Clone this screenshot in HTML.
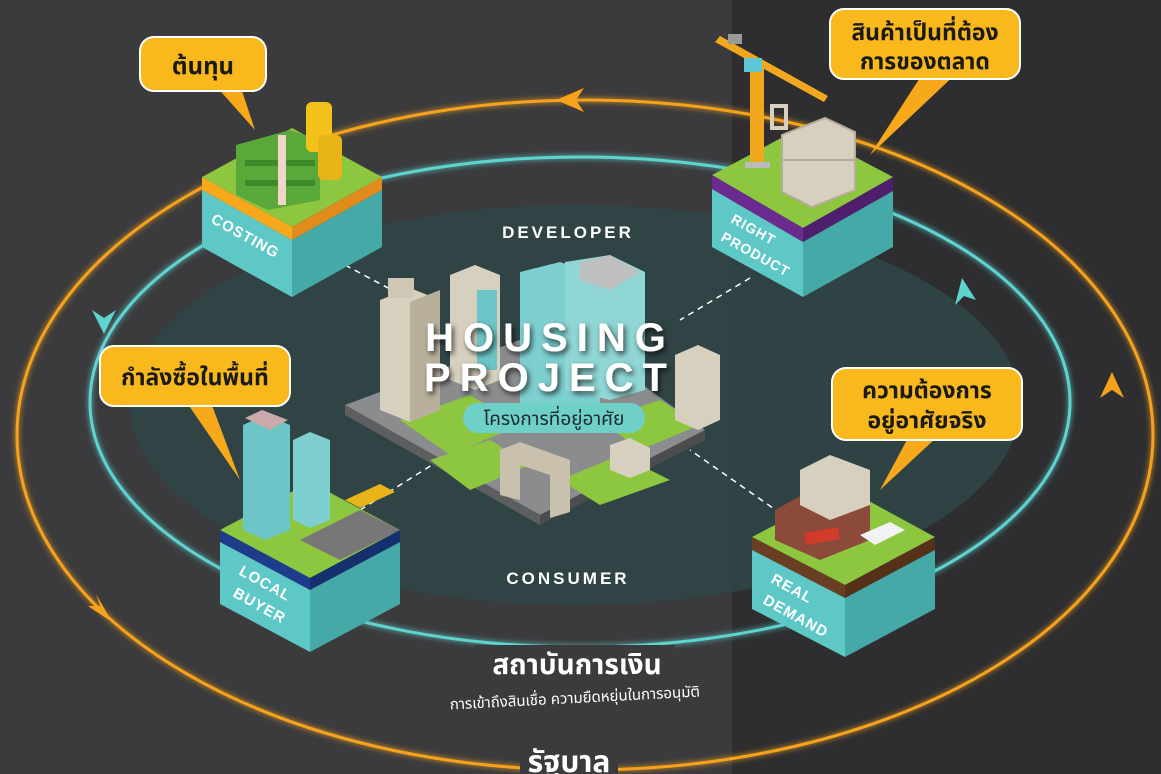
<!DOCTYPE html>
<html><head><meta charset="utf-8"><style>
html,body{margin:0;padding:0}
body{width:1161px;height:774px;overflow:hidden;background:#3b3b3d;position:relative;font-family:"Liberation Sans","DejaVu Sans",sans-serif}
svg{position:absolute;left:0;top:0}
.t{font-family:"Liberation Sans","Noto Sans Thai","Loma","Garuda","DejaVu Sans",sans-serif}
</style></head><body>
<svg width="1161" height="774" viewBox="0 0 1161 774">
<defs>
<filter id="gl" x="-20%" y="-20%" width="140%" height="140%"><feGaussianBlur stdDeviation="3" result="b"/><feMerge><feMergeNode in="b"/><feMergeNode in="SourceGraphic"/></feMerge></filter>
<filter id="sh"><feDropShadow dx="2" dy="3" stdDeviation="3" flood-color="#000" flood-opacity="0.7"/></filter>
</defs>
<rect x="0" y="0" width="1161" height="774" fill="#3b3b3d"/>
<rect x="732" y="0" width="429" height="774" fill="#2e2e30"/>
<ellipse cx="575" cy="405" rx="445" ry="200" fill="#2f4446" opacity="0.95"/>
<ellipse cx="585" cy="435" rx="568" ry="335" fill="none" stroke="#f7a21b" stroke-width="3" filter="url(#gl)"/>
<ellipse cx="580" cy="402" rx="490" ry="245" fill="none" stroke="#5fd3cf" stroke-width="3" filter="url(#gl)"/>
<!-- arrowheads (filled) -->
<polygon points="556,100 584,88 576,100 584,112" fill="#f7a21b"/>
<polygon points="1112,372 1124,398 1112,390 1100,398" fill="#f7a21b"/>
<polygon points="112,622 88,606 100,606 96,594" fill="#f7a21b"/>
<polygon points="104,334 92,310 104,318 116,310" fill="#5fd3cf"/>
<polygon points="962,278 976,300 964,296 955,305" fill="#5fd3cf"/>
<!-- cover behind bottom labels -->
<rect x="475" y="645" width="200" height="34" fill="#3b3b3d"/>
<rect x="520" y="745" width="98" height="29" fill="#3b3b3d"/>
<!-- dashed lines -->
<g stroke="#fff" stroke-width="1.5" stroke-dasharray="6 5" fill="none">
<line x1="345" y1="265" x2="420" y2="305"/>
<line x1="750" y1="278" x2="680" y2="320"/>
<line x1="360" y1="510" x2="440" y2="460"/>
<line x1="790" y1="520" x2="690" y2="450"/>
</g>
<!-- city -->
<g>
<polygon points="345,405 560,325 705,430 540,515" fill="#8a8c8e"/>
<polygon points="345,405 540,515 540,525 345,415" fill="#5c5e60"/>
<polygon points="540,515 705,430 705,440 540,525" fill="#4a4c4e"/>
<polygon points="400,420 470,395 520,425 450,455" fill="#8dc63f"/>
<polygon points="560,480 620,455 670,480 600,505" fill="#8dc63f"/>
<polygon points="600,420 660,400 700,425 640,450" fill="#8dc63f"/>
<polygon points="430,460 490,440 530,465 470,490" fill="#8dc63f"/>
<polygon points="380,300 410,288 440,300 440,410 410,422 380,410" fill="#d8d0bf"/>
<polygon points="410,302 440,290 440,410 410,422" fill="#b9b09c"/>
<rect x="388" y="278" width="26" height="20" fill="#cfc7b4"/>
<polygon points="450,275 475,265 500,275 500,380 475,390 450,380" fill="#d8d0bf"/>
<rect x="477" y="290" width="20" height="80" fill="#6cc5c6"/>
<polygon points="520,272 560,262 600,275 600,410 560,420 520,405" fill="#7ecfd0"/>
<polygon points="565,262 610,255 645,272 645,390 610,400 565,390" fill="#8fd6d4"/>
<polygon points="580,262 610,255 640,272 610,290 580,280" fill="#bfbfbf"/>
<polygon points="675,355 698,345 720,355 720,420 698,430 675,420" fill="#d8d0bf"/>
<polygon points="500,450 520,442 570,460 570,512 550,518 550,475 520,465 520,500 500,495" fill="#c9c1ae"/>
<polygon points="610,445 630,438 650,448 650,470 630,478 610,470" fill="#d8d0bf"/>
</g>
<g font-weight="bold" fill="#fff" text-anchor="middle" filter="url(#sh)">
<text x="550" y="351" font-size="40" letter-spacing="9">HOUSING</text>
<text x="550" y="391" font-size="40" letter-spacing="9">PROJECT</text>
</g>
<rect x="463" y="403" width="182" height="30" rx="15" fill="#6fd0c8"/>
<text class="t" x="554" y="425" font-size="19" text-anchor="middle" fill="#1c2a2a">โครงการที่อยู่อาศัย</text>
<text x="568" y="238" font-size="17" font-weight="bold" fill="#fff" text-anchor="middle" letter-spacing="3">DEVELOPER</text>
<text x="568" y="584" font-size="17" font-weight="bold" fill="#fff" text-anchor="middle" letter-spacing="3">CONSUMER</text>

<!-- costing -->
<g>
<polygon points="202,177 292,128 382,177 292,227" fill="#8dc63f"/>
<polygon points="202,177 292,227 292,240 202,190" fill="#f7a81b"/>
<polygon points="292,227 382,177 382,190 292,240" fill="#e08b1a"/>
<polygon points="202,190 292,240 292,297 202,247" fill="#5ec8c6"/>
<polygon points="292,240 382,190 382,247 292,297" fill="#45a9a8"/>
<text x="210" y="222" font-size="15" font-weight="bold" fill="#fff" transform="rotate(29 210 222)" letter-spacing="1">COSTING</text>
<polygon points="236,145 290,130 320,140 320,200 268,210 236,195" fill="#5aa83a"/>
<rect x="245" y="160" width="70" height="6" fill="#3d8a2a"/>
<rect x="245" y="180" width="70" height="6" fill="#3d8a2a"/>
<rect x="278" y="135" width="8" height="70" fill="#f0d5c8"/>
<rect x="306" y="102" width="26" height="50" rx="6" fill="#f2c21b"/>
<rect x="318" y="135" width="24" height="45" rx="6" fill="#e8b418"/>
</g>
<!-- right product -->
<g>
<polygon points="712,175 800,128 893,177 803,228" fill="#8dc63f"/>
<polygon points="712,175 803,228 803,242 712,189" fill="#6a2a8e"/>
<polygon points="803,228 893,177 893,191 803,242" fill="#4f1e6c"/>
<polygon points="712,189 803,242 803,297 712,247" fill="#5ec8c6"/>
<polygon points="803,242 893,191 893,247 803,297" fill="#45a9a8"/>
<text x="730" y="222" font-size="14" font-weight="bold" fill="#fff" transform="rotate(29 730 222)" letter-spacing="1">RIGHT</text>
<text x="720" y="240" font-size="14" font-weight="bold" fill="#fff" transform="rotate(29 720 240)" letter-spacing="1">PRODUCT</text>
<rect x="750" y="62" width="14" height="105" fill="#f2a81e"/>
<polygon points="715,42 720,36 828,96 824,102" fill="#f2a81e"/>
<rect x="744" y="58" width="18" height="14" fill="#5fc6d6"/>
<rect x="728" y="34" width="14" height="10" fill="#9a9a9a"/>
<rect x="745" y="162" width="25" height="6" fill="#bbb"/>
<polygon points="782,135 825,118 855,132 855,190 812,207 782,192" fill="#d8d0bf" stroke="#b7ad98" stroke-width="2"/>
<line x1="782" y1="160" x2="855" y2="160" stroke="#b7ad98" stroke-width="2"/>
<rect x="772" y="106" width="14" height="22" fill="none" stroke="#d8d0bf" stroke-width="4"/>
</g>
<!-- local buyer -->
<g>
<polygon points="220,530 310,482 400,530 310,578" fill="#8dc63f"/>
<polygon points="220,530 310,578 310,590 220,542" fill="#1e3c8c"/>
<polygon points="310,578 400,530 400,542 310,590" fill="#16306f"/>
<polygon points="220,542 310,590 310,652 220,604" fill="#5ec8c6"/>
<polygon points="310,590 400,542 400,604 310,652" fill="#45a9a8"/>
<text x="238" y="574" font-size="15" font-weight="bold" fill="#fff" transform="rotate(29 238 574)" letter-spacing="1">LOCAL</text>
<text x="232" y="596" font-size="15" font-weight="bold" fill="#fff" transform="rotate(29 232 596)" letter-spacing="1">BUYER</text>
<polygon points="243,425 265,415 290,425 290,530 265,540 243,530" fill="#6cc5c6"/>
<polygon points="245,418 262,410 288,420 270,430" fill="#c9a9a9"/>
<polygon points="293,440 310,432 330,440 330,520 310,528 293,520" fill="#7ecfd0"/>
<polygon points="300,540 360,510 400,530 340,560" fill="#777"/>
<polygon points="345,500 380,484 395,492 360,508" fill="#e8b418"/>
</g>
<!-- real demand -->
<g>
<polygon points="752,537 845,488 935,537 845,585" fill="#8dc63f"/>
<polygon points="752,537 845,585 845,598 752,550" fill="#6a3e22"/>
<polygon points="845,585 935,537 935,550 845,598" fill="#55311a"/>
<polygon points="752,550 845,598 845,657 752,609" fill="#5ec8c6"/>
<polygon points="845,598 935,550 935,609 845,657" fill="#45a9a8"/>
<text x="770" y="582" font-size="15" font-weight="bold" fill="#fff" transform="rotate(29 770 582)" letter-spacing="1">REAL</text>
<text x="762" y="603" font-size="15" font-weight="bold" fill="#fff" transform="rotate(29 762 603)" letter-spacing="1">DEMAND</text>
<polygon points="775,510 820,485 870,505 870,540 820,560 775,540" fill="#8b4a3a"/>
<polygon points="800,470 830,455 870,470 870,505 830,520 800,505" fill="#d8d0bf"/>
<rect x="805" y="530" width="34" height="12" fill="#d23a2a" transform="rotate(-10 822 536)"/>
<polygon points="860,535 890,522 905,530 875,545" fill="#f2f2f2"/>
</g>

<!-- callouts -->
<g class="t" font-weight="bold" text-anchor="middle" fill="#1a1a1a">
<polygon points="215,85 240,85 255,130" fill="#f7a81b"/>
<rect x="140" y="37" width="126" height="54" rx="14" fill="#f9b81b" stroke="#fff" stroke-width="2"/>
<text x="203" y="74" font-size="24">ต้นทุน</text>
<polygon points="925,70 960,70 870,155" fill="#f7a81b"/>
<rect x="830" y="9" width="190" height="70" rx="14" fill="#f9b81b" stroke="#fff" stroke-width="2"/>
<text x="925" y="40" font-size="23">สินค้าเป็นที่ต้อง</text>
<text x="925" y="69" font-size="23">การของตลาด</text>
<polygon points="185,400 210,400 240,480" fill="#f7a81b"/>
<rect x="100" y="346" width="190" height="60" rx="14" fill="#f9b81b" stroke="#fff" stroke-width="2"/>
<text x="195" y="385" font-size="23">กำลังซื้อในพื้นที่</text>
<polygon points="915,425 950,425 880,490" fill="#f7a81b"/>
<rect x="832" y="368" width="190" height="72" rx="14" fill="#f9b81b" stroke="#fff" stroke-width="2"/>
<text x="927" y="398" font-size="23">ความต้องการ</text>
<text x="927" y="428" font-size="23">อยู่อาศัยจริง</text>
</g>
<g class="t" fill="#fff" text-anchor="middle">
<text x="577" y="674" font-size="28" font-weight="bold">สถาบันการเงิน</text>
<text x="575" y="703" font-size="15" transform="rotate(-3 575 700)">การเข้าถึงสินเชื่อ ความยืดหยุ่นในการอนุมัติ</text>
<text x="569" y="772" font-size="30" font-weight="bold">รัฐบาล</text>
</g>
</svg>
</body></html>
